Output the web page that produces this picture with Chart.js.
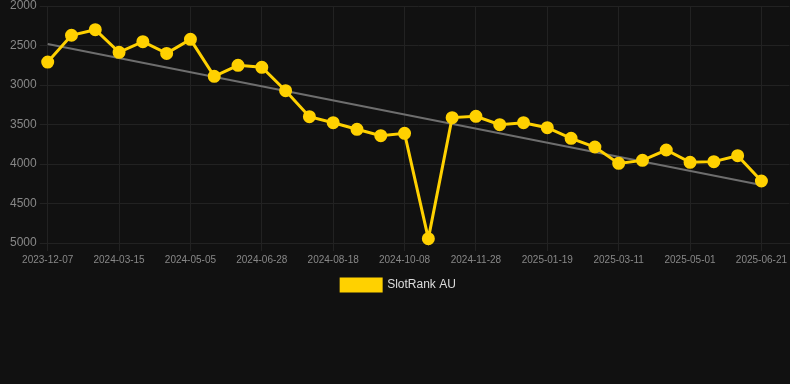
<!DOCTYPE html>
<html>
<head>
<meta charset="utf-8">
<script src="https://cdn.jsdelivr.net/npm/chart.js@4.4.1/dist/chart.umd.min.js"></script>
<style>
    html, body { margin: 0; padding: 0; background: #111111; }
    #wrap { width: 790px; height: 301px; position: relative; }
</style>
</head>
<body>
<div id="wrap"><canvas id="chart"></canvas></div>
<script>
// dates for each sample (only every third one shows on the axis)
const dates = [
    "2023-12-07", "2024-01-09", "2024-02-11", "2024-03-15", "2024-04-01", "2024-04-18",
    "2024-05-05", "2024-05-23", "2024-06-10", "2024-06-28", "2024-07-15", "2024-08-01",
    "2024-08-18", "2024-09-04", "2024-09-21", "2024-10-08", "2024-10-25", "2024-11-11",
    "2024-11-28", "2024-12-15", "2025-01-01", "2025-01-19", "2025-02-05", "2025-02-22",
    "2025-03-11", "2025-03-28", "2025-04-14", "2025-05-01", "2025-05-18", "2025-06-04",
    "2025-06-21"
];

// SlotRank AU rank values
const rankAU = [
    2710, 2370, 2300, 2586, 2451, 2600, 2422, 2890, 2751, 2776, 3072, 3401,
    3477, 3561, 3641, 3612, 4945, 3413, 3397, 3502, 3477, 3540, 3675, 3785,
    3992, 3954, 3823, 3979, 3970, 3895, 4215
];

// trend line end values (first and last sample)
const trendStart = 2481;
const trendEnd = 4266;

const yTicks = [2000, 2500, 3000, 3500, 4000, 4500, 5000];

let rankPoints = rankAU.map((v, i) => ({ x: i, y: v }));
let trendPoints = [{ x: 0, y: trendStart }, { x: dates.length - 1, y: trendEnd }];

let ctx = document.getElementById('chart').getContext('2d');
const fontFamily = 'Arial, "Liberation Sans", sans-serif';

new Chart(ctx,
    {
        type: 'line',
        data:
            {
                datasets:
                    [
                        {
                            label: 'SlotRank AU',
                            data: rankPoints,
                            borderColor: '#FFD100',
                            backgroundColor: '#FFD100',
                            borderWidth: 3,
                            pointRadius: 5,
                            pointHoverRadius: 6,
                            tension: 0,
                            clip: false,
                            order: 1
                        },
                        {
                            label: 'trend',
                            data: trendPoints,
                            borderColor: '#6e6e6e',
                            borderWidth: 2,
                            pointRadius: 0,
                            clip: false,
                            order: 2
                        }
                    ]
            },
        options:
            {
                responsive: true,
                maintainAspectRatio: false,
                animation: false,
                layout: { autoPadding: false, padding: { top: 6, left: 7, right: 0 } },
                plugins:
                    {
                        legend:
                            {
                                position: 'bottom',
                                labels:
                                    {
                                        color: '#dddddd',
                                        boxWidth: 40,
                                        boxHeight: 12,
                                        font: { family: fontFamily, size: 12 },
                                        filter: (item) => item.text !== 'trend'
                                    }
                            },
                        tooltip: { enabled: false }
                    },
                scales:
                    {
                        x:
                            {
                                type: 'linear',
                                min: 0,
                                max: 31.18,
                                ticks:
                                    {
                                        stepSize: 3,
                                        includeBounds: false,
                                        color: '#888888',
                                        maxRotation: 0,
                                        font: { family: fontFamily, size: 10 },
                                        callback: (value) => dates[value] || ''
                                    },
                                grid: { color: '#222222', tickLength: 8 },
                                border: { color: '#222222' }
                            },
                        y:
                            {
                                reverse: true,
                                min: yTicks[0],
                                max: yTicks[yTicks.length - 1],
                                afterBuildTicks: (axis) => { axis.ticks = yTicks.map(v => ({ value: v })); },
                                afterFit: (axis) => { axis.paddingTop = 0; axis.paddingBottom = 0; },
                                ticks:
                                    {
                                        color: '#888888',
                                        padding: 3,
                                        font: { family: fontFamily, size: 12 },
                                        callback: (value) => String(value)
                                    },
                                grid: { color: '#222222', tickLength: 8 },
                                border: { color: '#222222' }
                            }
                    }
            }
    });
</script>
</body>
</html>
